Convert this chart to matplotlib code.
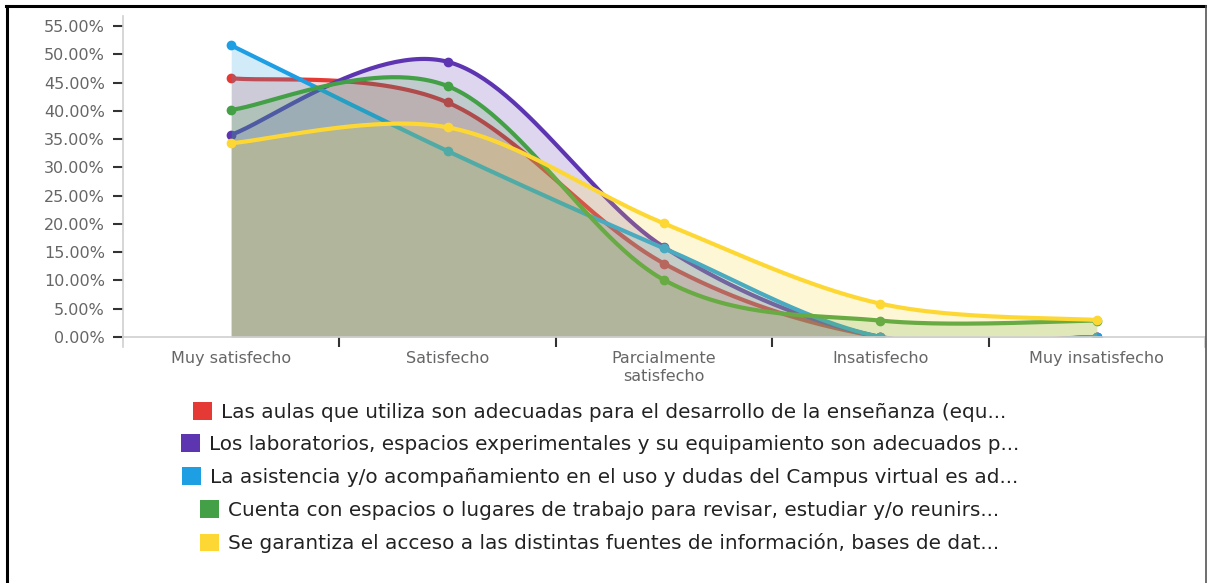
import numpy as np
import matplotlib
matplotlib.use("Agg")
import matplotlib.pyplot as plt
from matplotlib.patches import Patch
from matplotlib.lines import Line2D
from matplotlib.ticker import FuncFormatter

plt.rcParams['font.family'] = ['DejaVu Sans']

categories = ["Muy satisfecho", "Satisfecho", "Parcialmente\nsatisfecho", "Insatisfecho", "Muy insatisfecho"]
series_names = [
    "Las aulas que utiliza son adecuadas para el desarrollo de la enseñanza (equ...",
    "Los laboratorios, espacios experimentales y su equipamiento son adecuados p...",
    "La asistencia y/o acompañamiento en el uso y dudas del Campus virtual es ad...",
    "Cuenta con espacios o lugares de trabajo para revisar, estudiar y/o reunirs...",
    "Se garantiza el acceso a las distintas fuentes de información, bases de dat...",
]
aulas = [45.8, 41.5, 13.0, 0.0, 0.0]
laboratorios = [35.8, 48.7, 15.9, 0.0, 0.0]
campus = [51.6, 32.9, 15.7, 0.0, 0.0]
espacios = [40.2, 44.4, 10.1, 2.9, 2.9]
fuentes = [34.3, 37.1, 20.1, 5.9, 3.0]
series_values = [aulas, laboratorios, campus, espacios, fuentes]
colors = ["#e53935", "#5e35b1", "#1e9fe3", "#43a047", "#fdd835"]
yticks = [0, 5, 10, 15, 20, 25, 30, 35, 40, 45, 50, 55]


def cardinal_curve(x, y, steps=60):
    """Cardinal (Catmull-Rom, tension 0) curve through the points, endpoints duplicated."""
    P = np.column_stack([np.asarray(x, float), np.asarray(y, float)])
    n = len(P)
    Pe = np.vstack([P[0], P, P[-1]])
    out = []
    t = np.linspace(0, 1, steps)[:, None]
    for i in range(n - 1):
        p0, p1, p2, p3 = Pe[i], Pe[i + 1], Pe[i + 2], Pe[i + 3]
        b0 = p1
        b1 = p1 + (p2 - p0) / 6
        b2 = p2 - (p3 - p1) / 6
        b3 = p2
        seg = ((1 - t) ** 3) * b0 + 3 * ((1 - t) ** 2) * t * b1 + 3 * (1 - t) * t ** 2 * b2 + t ** 3 * b3
        out.append(seg if i == 0 else seg[1:])
    c = np.vstack(out)
    return c[:, 0], c[:, 1]


fig = plt.figure(figsize=(12.07, 5.83), dpi=100)
ax = fig.add_axes([123 / 1207, 1 - 337 / 583, (1205 - 123) / 1207, (337 - 16) / 583])

xpos = np.arange(len(categories))
for i, (vals, col) in enumerate(zip(series_values, colors)):
    cx, cy = cardinal_curve(xpos, vals)
    ax.fill_between(cx, 0, cy, color=col, alpha=0.2, linewidth=0, zorder=2 + 2 * i)
    ax.plot(cx, cy, color=col, lw=3.0, solid_capstyle='round', zorder=3 + 2 * i)
    ax.plot(xpos, vals, 'o', color=col, ms=6, zorder=3 + 2 * i)

ax.set_xlim(-0.5, len(categories) - 0.5)
ax.set_ylim(0, 56.8)
ax.set_yticks(yticks)
ax.yaxis.set_major_formatter(FuncFormatter(lambda v, p: f"{v:.2f}%"))
ax.tick_params(axis='y', colors='#333333', length=7, width=1.5, labelcolor='#666666', labelsize=11.5, pad=6)
ax.set_xticks(xpos)
ax.set_xticklabels(categories, color='#666666', fontsize=11.5, linespacing=1.25)
ax.tick_params(axis='x', length=0, pad=10)
ax.set_xticks(np.arange(0.5, len(categories) - 1, 1), minor=True)
ax.tick_params(axis='x', which='minor', length=7, width=1.5, color='#333333')
for s in ['top', 'right']:
    ax.spines[s].set_visible(False)
for s in ['left', 'bottom']:
    ax.spines[s].set_color('#d0d0d0')
    ax.spines[s].set_linewidth(1.2)
    ax.spines[s].set_zorder(20)

# light end ticks on the x axis
for xe in (-0.5, len(categories) - 0.5):
    ax.plot([xe, xe], [0, -1.7], color='#d0d0d0', lw=1.2, clip_on=False)

# legend rows, each centred
row_y = [412, 444, 477, 510, 543]
for name, col, yy in zip(series_names, colors, row_y):
    fig.legend(handles=[Patch(facecolor=col, edgecolor='none')], labels=[name],
               loc='center', bbox_to_anchor=(600 / 1207, 1 - yy / 583),
               frameon=False, fontsize=14.4, handlelength=0.95, handleheight=0.95,
               handletextpad=0.45, borderpad=0, labelcolor='#222222')

# outer frame
fig.add_artist(Line2D([6 / 1207, 1206 / 1207], [1 - 6 / 583, 1 - 6 / 583], color='black', lw=2.2))
fig.add_artist(Line2D([7 / 1207, 7 / 1207], [0, 1 - 6 / 583], color='black', lw=2.2))
fig.add_artist(Line2D([1205.5 / 1207, 1205.5 / 1207], [0, 1 - 6 / 583], color='#555555', lw=1.2))

fig.savefig("out.png", dpi=100)
